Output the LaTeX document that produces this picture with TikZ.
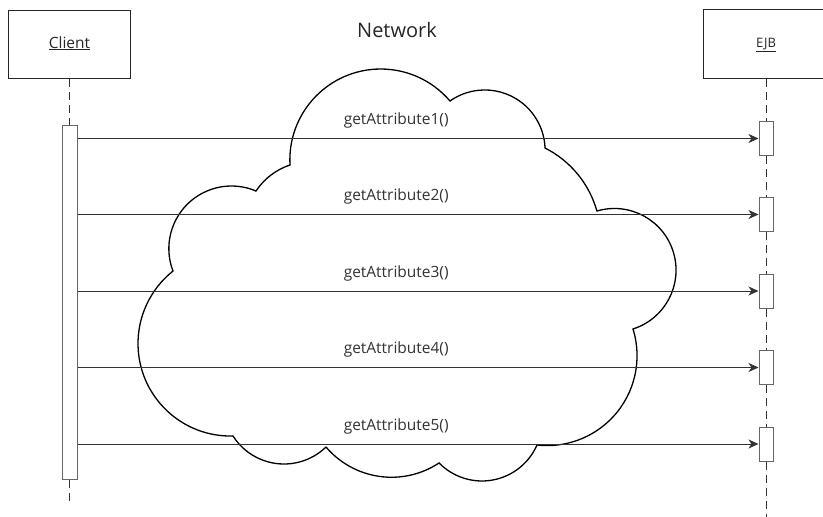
\documentclass[tikz,border=0pt]{standalone}
\usepackage{fontspec}
\setmainfont{Open Sans}
\usetikzlibrary{arrows.meta}
\tikzset{
  objbox/.style={draw=black!85, line width=1.3pt, fill=white, inner sep=0pt},
  objlabel/.style={anchor=base, inner sep=0pt, text=black!85},
  lifeline/.style={draw=black!80, line width=1pt, dash pattern=on 8pt off 5pt},
  actbar/.style={draw=black!60, line width=1pt, fill=white, inner sep=0pt},
  msg/.style={draw=black!80, line width=0.9pt, -{Stealth[length=10pt,width=9pt,inset=3pt]}},
  msglabel/.style={font=\fontsize{15.5}{18}\selectfont, text=black!80, anchor=base, inner sep=0pt},
  cloudline/.style={draw=black, line width=1.3pt, line cap=round},
}
% arc through three points (pixel coordinates, y downwards)
\newcommand\cloudbump[6]{%
  \pgfmathsetmacro\cbAx{(#1)/100}\pgfmathsetmacro\cbAy{-(#2)/100}%
  \pgfmathsetmacro\cbBx{(#3)/100}\pgfmathsetmacro\cbBy{-(#4)/100}%
  \pgfmathsetmacro\cbCx{(#5)/100}\pgfmathsetmacro\cbCy{-(#6)/100}%
  \pgfmathsetmacro\cbD{2*((\cbAx)*((\cbBy)-(\cbCy))+(\cbBx)*((\cbCy)-(\cbAy))+(\cbCx)*((\cbAy)-(\cbBy)))}%
  \pgfmathsetmacro\cbSa{(\cbAx)*(\cbAx)+(\cbAy)*(\cbAy)}%
  \pgfmathsetmacro\cbSb{(\cbBx)*(\cbBx)+(\cbBy)*(\cbBy)}%
  \pgfmathsetmacro\cbSc{(\cbCx)*(\cbCx)+(\cbCy)*(\cbCy)}%
  \pgfmathsetmacro\cbUx{((\cbSa)*((\cbBy)-(\cbCy))+(\cbSb)*((\cbCy)-(\cbAy))+(\cbSc)*((\cbAy)-(\cbBy)))/(\cbD)}%
  \pgfmathsetmacro\cbUy{((\cbSa)*((\cbCx)-(\cbBx))+(\cbSb)*((\cbAx)-(\cbCx))+(\cbSc)*((\cbBx)-(\cbAx)))/(\cbD)}%
  \pgfmathsetmacro\cbR{100*sqrt(((\cbAx)-(\cbUx))^2+((\cbAy)-(\cbUy))^2)}%
  \pgfmathsetmacro\cbAone{atan2((\cbAy)-(\cbUy),(\cbAx)-(\cbUx))}%
  \pgfmathsetmacro\cbAthree{atan2((\cbCy)-(\cbUy),(\cbCx)-(\cbUx))}%
  \pgfmathsetmacro\cbCr{((\cbBx)-(\cbAx))*((\cbCy)-(\cbAy))-((\cbBy)-(\cbAy))*((\cbCx)-(\cbAx))}%
  \pgfmathsetmacro\cbEnd{(\cbCr)<0 ? (\cbAone)-mod((\cbAone)-(\cbAthree)+720,360) : (\cbAone)+mod((\cbAthree)-(\cbAone)+720,360)}%
  \draw[cloudline] (#1,-#2) arc[start angle=\cbAone, end angle=\cbEnd, radius=\cbR pt];%
}
\begin{document}
\begin{tikzpicture}[x=1pt,y=1pt]
\useasboundingbox (0,0) rectangle (823,-517);
\clip (0,0) rectangle (823,-517);
\fill[white] (0,0) rectangle (823,-517);

% title
\node[objlabel, font=\fontsize{20}{24}\selectfont] (title) at (397,-37) {Network};

% objects
\node[objbox, minimum width=122pt, minimum height=68.5pt, anchor=north west] (client) at (8,-9.5) {};
\node[objlabel, font=\fontsize{15.5}{18}\selectfont] (clientlbl) at (69.5,-48) {\underline{Client}};
\node[objbox, minimum width=126pt, minimum height=69pt, anchor=north west] (ejb) at (703,-9) {};
\node[objlabel, font=\fontsize{13}{16}\selectfont] (ejblbl) at (766,-47) {\underline{EJB}};

% activation bars
\node[actbar, minimum width=15pt, minimum height=354pt, anchor=north] (cb) at (69.5,-125) {};
\foreach \n/\y in {1/138.5, 2/214.5, 3/291, 4/367.5, 5/444}{
  \node[actbar, minimum width=14pt, minimum height=34pt] (e\n) at (766,-\y) {};
}
\coordinate (clientend) at (69.5,-505);
\coordinate (ejbend) at (766,-519);

% lifelines
\draw[lifeline] (cb.north |- client.south) -- (cb.north);
\draw[lifeline] (cb.south) -- (clientend);
\draw[lifeline] (e1.north |- ejb.south) -- (e1.north);
\draw[lifeline] (e1.south) -- (e2.north);
\draw[lifeline] (e2.south) -- (e3.north);
\draw[lifeline] (e3.south) -- (e4.north);
\draw[lifeline] (e4.south) -- (e5.north);
\draw[lifeline] (e5.south) -- (ejbend);

% cloud
\cloudbump{290}{165}{381}{69}{450}{101}
\cloudbump{450}{101}{486}{90}{545}{148}
\cloudbump{545}{148}{580}{177}{597}{211}
\cloudbump{597}{211}{676}{267}{633}{329}
\cloudbump{633}{329}{611}{419}{537}{445}
\cloudbump{537}{445}{483}{481}{439}{463}
\cloudbump{439}{463}{385}{477}{326}{447}
\cloudbump{326}{447}{283}{464}{233}{436}
\cloudbump{233}{436}{138}{342}{173}{271}
\cloudbump{173}{271}{180}{213}{256}{191}
\cloudbump{256}{191}{271}{175}{290}{165}

% messages
\foreach \n in {1,...,5}{
  \draw[msg] (cb.east |- e\n.west) -- (e\n.west)
    node[msglabel, pos=0.468, yshift=14pt] {getAttribute\n()};
}
\end{tikzpicture}
\end{document}
